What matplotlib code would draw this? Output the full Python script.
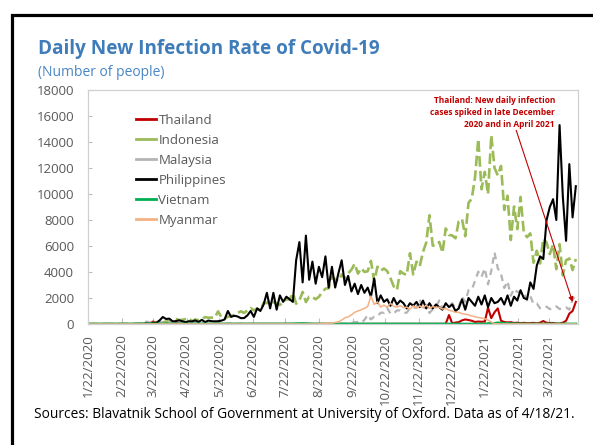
import matplotlib
matplotlib.use("Agg")
import matplotlib.pyplot as plt
import pandas as pd
from matplotlib.lines import Line2D
from matplotlib.patches import Rectangle

plt.rcParams["font.family"] = ["Open Sans", "DejaVu Sans"]

# ---- data: daily new cases, sampled every 3 days from 2020-01-22 ----
start_date = "2020-01-22"
end_date = "2021-04-18"
step_days = 3

thailand = [
    0, 1, 2, 1, 6, 0, 0, 1, 0, 0,
    0, 0, 0, 0, 1, 2, 4, 5, 33, 60,
    188, 107, 109, 127, 103, 51, 54, 45, 30, 33,
    19, 15, 7, 7, 6, 1, 0, 4, 7, 3,
    2, 1, 1, 1, 2, 1, 1, 3, 5, 4,
    1, 0, 2, 0, 1, 4, 1, 2, 1, 3,
    2, 2, 3, 1, 0, 4, 2, 1, 5, 2,
    3, 1, 4, 2, 1, 2, 5, 4, 1, 2,
    3, 4, 2, 5, 1, 3, 2, 7, 1, 5,
    2, 3, 5, 4, 6, 3, 5, 4, 3, 2,
    5, 8, 6, 4, 7, 3, 5, 4, 9, 14,
    20, 690, 46, 110, 144, 279, 350, 305, 249, 157,
    188, 171, 190, 1250, 450, 900, 1200, 250, 150, 120,
    140, 80, 100, 60, 90, 60, 70, 90, 50, 100,
    230, 90, 80, 80, 40, 30, 100, 250, 800, 1000,
    1700,
]

indonesia = [
    0, 0, 0, 0, 0, 0, 0, 0, 0, 0,
    0, 0, 0, 0, 0, 2, 8, 35, 38, 60,
    64, 105, 153, 114, 196, 218, 337, 399, 297, 325,
    375, 436, 214, 347, 292, 367, 533, 484, 490, 496,
    973, 526, 415, 557, 609, 703, 847, 979, 857, 1031,
    1226, 1051, 1178, 1082, 1624, 1607, 1853, 1671, 1591, 1462,
    1693, 1906, 1868, 2381, 1560, 1815, 2473, 1687, 2098, 2081,
    1902, 2090, 2447, 2719, 2743, 3622, 3444, 3307, 3806, 3507,
    3891, 4176, 4634, 3874, 4284, 4007, 4056, 4850, 3267, 4411,
    4105, 4267, 4070, 3520, 2897, 2618, 4065, 3880, 3770, 5444,
    3807, 4792, 4442, 5534, 6267, 8369, 6027, 6058, 6310, 5489,
    7354, 6848, 6808, 6594, 7903, 8072, 6753, 9321, 9640, 11278,
    14224, 10365, 11703, 9994, 14518, 12001, 11434, 12156, 8776, 9869,
    6462, 9039, 7300, 9775, 7030, 6680, 6971, 4714, 5633, 4656,
    6570, 6267, 5379, 6107, 4216, 6142, 3734, 4906, 5041, 4145,
    5000,
]

malaysia = [
    0, 3, 1, 0, 2, 0, 1, 0, 0, 1,
    0, 0, 0, 0, 14, 10, 18, 26, 190, 110,
    123, 172, 159, 140, 208, 131, 118, 153, 85, 54,
    57, 71, 40, 57, 105, 30, 54, 16, 36, 47,
    50, 60, 15, 30, 38, 19, 7, 31, 6, 14,
    3, 4, 5, 1, 5, 2, 3, 9, 3, 10,
    5, 5, 23, 11, 2, 4, 20, 14, 8, 12,
    15, 6, 5, 15, 6, 10, 62, 100, 30, 21,
    28, 82, 147, 150, 89, 317, 691, 354, 561, 589,
    871, 862, 1228, 801, 799, 1054, 1032, 852, 869, 1208,
    1210, 1290, 1884, 1109, 1472, 851, 1123, 1340, 1810, 1229,
    1220, 1340, 1599, 1196, 1328, 2068, 1704, 2593, 2643, 3309,
    4029, 3631, 4275, 3048, 4094, 5500, 4284, 3847, 2764, 3288,
    2176, 2712, 2461, 2468, 2437, 1828, 2154, 1529, 1575, 1208,
    1219, 1331, 1144, 1197, 1360, 1149, 1235, 1285, 1100, 1889,
    2195,
]

philippines = [
    0, 0, 0, 0, 0, 0, 0, 0, 0, 0,
    0, 0, 0, 0, 0, 2, 10, 12, 45, 15,
    73, 84, 272, 538, 385, 414, 206, 220, 284, 209,
    140, 211, 198, 276, 156, 320, 147, 264, 215, 205,
    213, 258, 350, 1000, 552, 634, 579, 450, 457, 660,
    1000, 548, 1200, 1000, 1500, 2400, 1200, 2400, 1100, 2200,
    1700, 2100, 1900, 1700, 4900, 6300, 3200, 6800, 3400, 4800,
    3100, 4400, 3600, 5200, 2800, 4400, 2800, 3900, 4900, 3000,
    3700, 2500, 3100, 2300, 3000, 2400, 2800, 2100, 3500, 1600,
    2200, 1700, 1900, 1400, 2000, 1500, 1800, 1600, 1200, 1600,
    1400, 1700, 1300, 1800, 1200, 1600, 1200, 1500, 1300, 1100,
    1600, 1300, 1500, 1000, 1200, 1900, 1100, 2000, 1700, 1400,
    2100, 1500, 2200, 1300, 2000, 1600, 1700, 2000, 1500, 2200,
    1400, 2100, 1800, 2600, 2000, 1900, 3200, 2700, 4500, 5200,
    5000, 8000, 9000, 9600, 8000, 15300, 9800, 6400, 12300, 8200,
    10600,
]

vietnam = [
    0, 0, 0, 0, 2, 0, 1, 0, 0, 0,
    0, 0, 0, 0, 0, 9, 4, 6, 9, 9,
    14, 7, 10, 8, 4, 4, 2, 2, 2, 0,
    0, 0, 0, 0, 0, 0, 0, 1, 0, 0,
    0, 0, 1, 2, 1, 0, 0, 0, 0, 0,
    0, 3, 0, 0, 0, 2, 2, 1, 0, 3,
    2, 1, 8, 15, 22, 34, 41, 28, 11, 3,
    5, 11, 2, 9, 5, 5, 3, 0, 2, 1,
    0, 0, 3, 2, 0, 2, 1, 2, 1, 4,
    0, 5, 2, 6, 1, 4, 2, 3, 1, 2,
    3, 2, 5, 0, 2, 4, 1, 3, 1, 2,
    3, 0, 2, 4, 1, 2, 0, 1, 2, 0,
    3, 1, 0, 35, 51, 43, 95, 66, 45, 52,
    30, 21, 15, 10, 8, 11, 6, 4, 7, 5,
    6, 3, 6, 10, 8, 12, 4, 11, 5, 8,
    9,
]

myanmar = [
    0, 0, 0, 0, 0, 0, 0, 0, 0, 0,
    0, 0, 0, 0, 0, 0, 0, 0, 0, 0,
    0, 0, 2, 1, 4, 2, 6, 2, 3, 1,
    0, 2, 1, 0, 3, 0, 1, 3, 0, 2,
    1, 4, 0, 1, 0, 2, 0, 1, 3, 0,
    1, 0, 0, 2, 1, 0, 0, 3, 1, 0,
    2, 5, 1, 0, 3, 2, 0, 1, 4, 6,
    2, 10, 40, 40, 70, 60, 120, 170, 300, 480,
    550, 700, 900, 1000, 1100, 1200, 1350, 2150, 1500, 1700,
    1300, 1450, 1300, 1600, 1350, 1300, 1400, 1250, 1300, 1150,
    1400, 1200, 1400, 1250, 1450, 1200, 1350, 1250, 1300, 1150,
    1200, 1050, 1000, 900, 900, 800, 750, 700, 620, 560,
    500, 460, 400, 300, 150, 20, 5, 0, 3, 2,
    0, 1, 4, 2, 0, 3, 0, 0, 2, 0,
    1, 0, 0, 2, 0, 0, 1, 0, 0, 0,
    0,
]

series_names = ["Thailand", "Indonesia", "Malaysia", "Philippines", "Vietnam", "Myanmar"]

tick_labels = [
    "1/22/2020", "2/22/2020", "3/22/2020", "4/22/2020", "5/22/2020",
    "6/22/2020", "7/22/2020", "8/22/2020", "9/22/2020", "10/22/2020",
    "11/22/2020", "12/22/2020", "1/22/2021", "2/22/2021", "3/22/2021",
]

y_max = 18000
y_step = 2000

# ---- styling ----
colors = ["#c00000", "#9bbb59", "#b4b4b4", "#000000", "#00b050", "#f4b183"]
widths = [1.5, 1.9, 1.6, 1.5, 1.9, 1.1]
styles = ["-", (0, (4, 1.6)), (0, (3, 2.2)), "-", "-", "-"]
values = [thailand, indonesia, malaysia, philippines, vietnam, myanmar]

W, H = 593, 445
fig = plt.figure(figsize=(W / 100, H / 100), dpi=100)
fig.patch.set_facecolor("white")

ax_l, ax_r, ax_t, ax_b = 88, 578, 90, 324
ax = fig.add_axes([ax_l / W, 1 - ax_b / H, (ax_r - ax_l) / W, (ax_b - ax_t) / H])

dates = pd.date_range(start_date, periods=len(philippines), freq=f"{step_days}D")

for name, vals, c, lw, ls in zip(series_names, values, colors, widths, styles):
    ax.plot(dates, vals, color=c, lw=lw, ls=ls, solid_joinstyle="round",
            dash_capstyle="butt", label=name)

ax.set_xlim(pd.Timestamp(start_date), pd.Timestamp(end_date))
ax.set_ylim(0, y_max)
ax.set_yticks(range(0, y_max + 1, y_step))

tick_dates = [pd.Timestamp(start_date) + pd.DateOffset(months=i) for i in range(len(tick_labels))]
ax.set_xticks(tick_dates)
ax.set_xticklabels(tick_labels, rotation=90, va="top", ha="center")

label_color = "#595959"
ax.tick_params(axis="x", direction="in", length=4, width=0.8, color="#bfbfbf",
               labelsize=9.5, labelcolor=label_color, pad=7.5)
ax.tick_params(axis="y", direction="in", length=3, width=0.8, color="#bfbfbf",
               labelsize=9.5, labelcolor=label_color, pad=10)
for sp in ax.spines.values():
    sp.set_color("#d0d0d0")
    sp.set_linewidth(0.9)

# legend with solid swatches
handles = [Line2D([0], [0], color=c, lw=2) for c in colors]
leg = ax.legend(handles, series_names, loc="upper left",
                bbox_to_anchor=((136 - ax_l) / (ax_r - ax_l), (ax_b - 114) / (ax_b - ax_t)),
                frameon=False, fontsize=9.5, handlelength=1.55, handletextpad=0.15,
                labelspacing=0.53, borderpad=0, borderaxespad=0)
for t in leg.get_texts():
    t.set_color(label_color)

# annotation for Thailand
red = "#c00000"
ax.text((555 - ax_l) / (ax_r - ax_l), (ax_b - 96) / (ax_b - ax_t),
        "Thailand: New daily infection\ncases spiked in late December\n2020 and in April 2021",
        transform=ax.transAxes, ha="right", va="top", multialignment="right",
        fontsize=6.0, fontweight="bold", color=red, linespacing=1.45)
ax.annotate("", xy=(pd.Timestamp("2021-04-13"), 1700),
            xytext=(pd.Timestamp("2021-02-20"), 14900),
            arrowprops=dict(arrowstyle="-|>", color=red, lw=0.8, mutation_scale=7,
                            shrinkA=0, shrinkB=0))

# titles and source
title_color = "#3f7cba"
fig.text(38 / W, 1 - 49 / H, "Daily New Infection Rate of Covid-19", ha="left", va="center",
         fontsize=13.6, fontweight="bold", color=title_color)
fig.text(38 / W, 1 - 73 / H, "(Number of people)", ha="left", va="center",
         fontsize=10, color="#4a86c5")
fig.text(34 / W, 1 - 414 / H,
         "Sources: Blavatnik School of Government at University of Oxford. Data as of 4/18/21.",
         ha="left", va="center", fontsize=9.95, color="#000000")

# outer black frame (right and bottom edges run off the canvas)
frame_left = 11.5 / W
frame_top = 1 - 14.5 / H
fig.add_artist(Rectangle((frame_left, -0.2), 1.5, frame_top + 0.2, transform=fig.transFigure,
                         fill=False, ec="black", lw=2.3))

fig.savefig("out.png", dpi=100)
